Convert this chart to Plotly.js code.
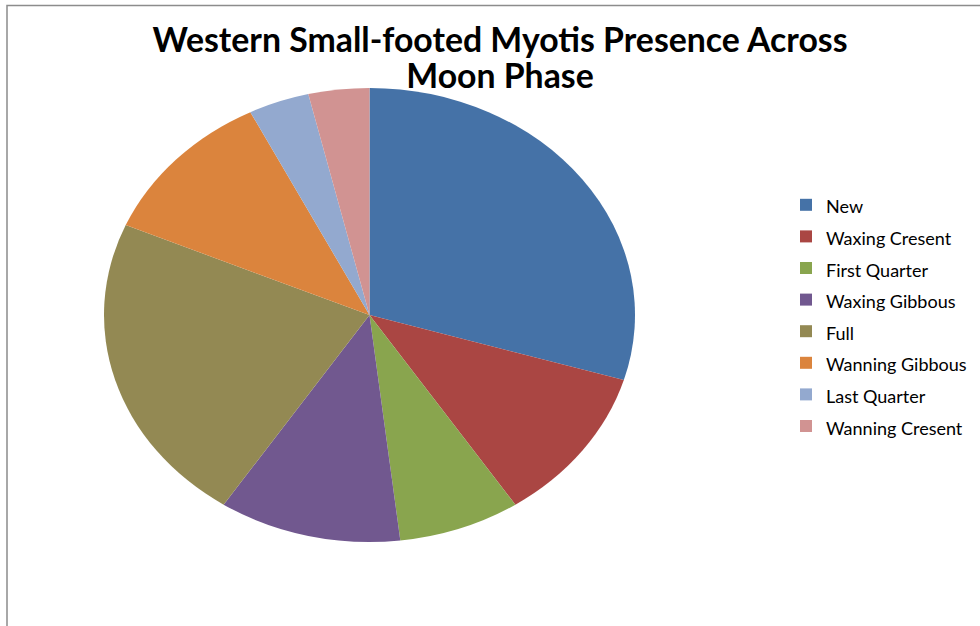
<!DOCTYPE html>
<html>
<head>
<meta charset="utf-8">
<script src="https://cdn.plot.ly/plotly-3.0.1.min.js"></script>
<style>
  html, body { margin: 0; padding: 0; background: #ffffff; }
  #chart { width: 980px; height: 626px; }
</style>
</head>
<body>
<div id="chart"></div>
<script>
// ---- data ----
const phases = ["New", "Waxing Cresent", "First Quarter", "Waxing Gibbous",
                "Full", "Wanning Gibbous", "Last Quarter", "Wanning Cresent"];
const presence = [8, 3, 2, 3, 6, 3, 1, 1];
const sliceColors = ["#4572A7", "#AA4643", "#89A54E", "#71588F",
                     "#938953", "#DB843D", "#93A9CF", "#D19392"];
const titleLines = ["Western Small-footed Myotis Presence Across", "Moon Phase"];

// ---- geometry (pixels) ----
const W = 980, H = 626;
const cx = 369.5, cy = 315, rx = 265.5, ry = 227;
const stretch = rx / ry;

const trace = {
  type: "pie",
  labels: phases.map(p => '<span style="font-size:18px">' + p + '</span>'),
  values: presence,
  sort: false,
  direction: "clockwise",
  rotation: 0,
  textinfo: "none",
  hoverinfo: "label+value+percent",
  marker: { colors: sliceColors, line: { width: 0 } },
  domain: {
    x: [(cx - ry) / W, (cx + ry) / W],
    y: [(H - cy - ry) / H, (H - cy + ry) / H]
  }
};

const layout = {
  width: W, height: H,
  margin: { l: 0, r: 0, t: 0, b: 0 },
  paper_bgcolor: "#ffffff",
  font: { family: "Lato, 'Open Sans', sans-serif", color: "#000000" },
  title: {
    text: titleLines.map(t => '<span style="font-size:33.8px">' + t + '</span>').join("<br>"),
    font: { family: "Lato, 'Open Sans', sans-serif", size: 28, weight: 700, color: "#000000" },
    xref: "paper", x: 500 / W, xanchor: "center",
    yref: "container", y: 1 - 52 / H, yanchor: "top"
  },
  showlegend: true,
  legend: {
    x: 786 / W, xanchor: "left",
    y: 1 - 184 / H, yanchor: "top",
    bgcolor: "rgba(0,0,0,0)",
    borderwidth: 0,
    font: { family: "Lato, 'Open Sans', sans-serif", size: 22, color: "#000000" }
  },
  shapes: [{
    type: "rect", xref: "paper", yref: "paper",
    x0: 7 / W, x1: 1.05, y0: -0.05, y1: 1 - 5.5 / H,
    line: { color: "#8c8c8c", width: 1.5 }, fillcolor: "rgba(0,0,0,0)", layer: "below"
  }]
};

Plotly.newPlot("chart", [trace], layout, { staticPlot: true }).then(gd => {
  // Excel draws this pie as an ellipse: stretch the pie layer horizontally about its centre
  const pl = gd.querySelector(".pielayer");
  if (pl) pl.setAttribute("transform",
    "translate(" + (cx * (1 - stretch)) + ",0) scale(" + stretch + ",1)");
});
</script>
</body>
</html>
